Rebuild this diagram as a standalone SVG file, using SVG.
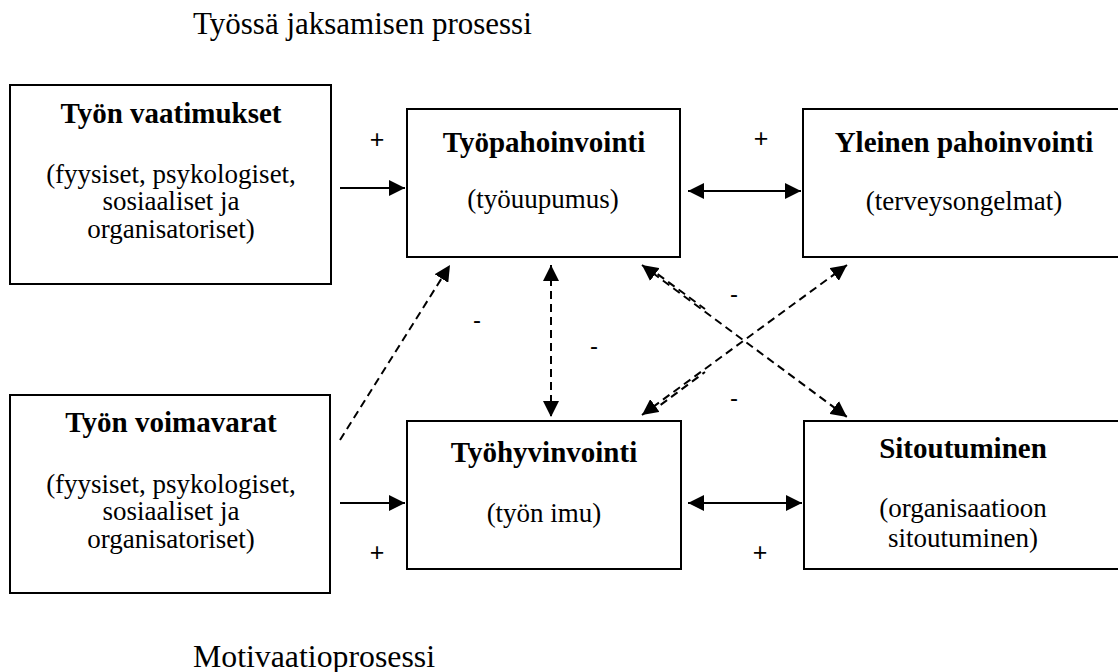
<svg xmlns="http://www.w3.org/2000/svg" width="1118" height="672" viewBox="0 0 1118 672">
<style>
.box{fill:#fff;stroke:#000;stroke-width:2}
.h{font-family:"Liberation Serif","Times New Roman",serif;font-weight:bold;font-size:29px;text-anchor:middle;fill:#000}
.t{font-family:"Liberation Serif","Times New Roman",serif;font-size:27px;text-anchor:middle;fill:#000}
.cap{font-family:"Liberation Serif","Times New Roman",serif;font-size:31px;fill:#000}
.sign{font-family:"Liberation Sans",Arial,sans-serif;font-size:25px;text-anchor:middle;fill:#000}
.minus{font-family:"Liberation Sans",Arial,sans-serif;font-size:24px;text-anchor:middle;fill:#000}
.solid{stroke:#000;stroke-width:2;fill:none}
.dash{stroke:#000;stroke-width:2;fill:none;stroke-dasharray:8 5}
</style>
<defs>
<marker id="ah" viewBox="0 0 16 16" refX="16" refY="8" markerWidth="16" markerHeight="16" markerUnits="userSpaceOnUse" orient="auto-start-reverse">
<path d="M0,0 L16,8 L0,16 z" fill="#000"/>
</marker>
</defs>
<rect width="1118" height="672" fill="#fff"/>
<text class="cap" x="193" y="34">Työssä jaksamisen prosessi</text>
<text class="cap" x="193" y="667" textLength="242" lengthAdjust="spacingAndGlyphs">Motivaatioprosessi</text>

<g id="tyon-vaatimukset">
<rect class="box" x="10" y="85" width="321" height="199"/>
<text class="h" x="171" y="123">Työn vaatimukset</text>
<text class="t" x="171" y="183">(fyysiset, psykologiset,</text>
<text class="t" x="171" y="210">sosiaaliset ja</text>
<text class="t" x="171" y="238">organisatoriset)</text>
</g>
<g id="tyopahoinvointi">
<rect class="box" x="407" y="109" width="273" height="148"/>
<text class="h" x="544" y="152">Työpahoinvointi</text>
<text class="t" x="543" y="208">(työuupumus)</text>
</g>
<g id="yleinen-pahoinvointi">
<rect class="box" x="803" y="109" width="322" height="148"/>
<text class="h" x="964" y="152">Yleinen pahoinvointi</text>
<text class="t" x="964" y="210">(terveysongelmat)</text>
</g>
<g id="tyon-voimavarat">
<rect class="box" x="10" y="395" width="320" height="198"/>
<text class="h" x="171" y="432">Työn voimavarat</text>
<text class="t" x="171" y="493">(fyysiset, psykologiset,</text>
<text class="t" x="171" y="520">sosiaaliset ja</text>
<text class="t" x="171" y="548">organisatoriset)</text>
</g>
<g id="tyohyvinvointi">
<rect class="box" x="407" y="421" width="274" height="148"/>
<text class="h" x="544" y="462">Työhyvinvointi</text>
<text class="t" x="544" y="522">(työn imu)</text>
</g>
<g id="sitoutuminen">
<rect class="box" x="804" y="421" width="321" height="148"/>
<text class="h" x="963" y="458">Sitoutuminen</text>
<text class="t" x="963" y="517">(organisaatioon</text>
<text class="t" x="963" y="547">sitoutuminen)</text>
</g>

<g id="connectors">
<path class="solid" d="M340,188 L405,188" marker-end="url(#ah)"/>
<path class="solid" d="M688,191 L801,191" marker-start="url(#ah)" marker-end="url(#ah)"/>
<path class="solid" d="M340,503 L405,503" marker-end="url(#ah)"/>
<path class="solid" d="M688,503 L802,503" marker-start="url(#ah)" marker-end="url(#ah)"/>
<path class="dash" d="M340,440 L450,265" marker-end="url(#ah)"/>
<path class="dash" d="M551,265 L551,417" marker-start="url(#ah)" marker-end="url(#ah)"/>
<path class="dash" d="M642,265 L847,417" marker-start="url(#ah)" marker-end="url(#ah)"/>
<path class="dash" d="M642,415 L847,265" marker-start="url(#ah)" marker-end="url(#ah)"/>
<path class="dash" d="M652,270 L705,309" style="stroke-dashoffset:6"/>
<path class="dash" d="M655,409 L705,372" style="stroke-dashoffset:6"/>
</g>
<g id="labels">
<text class="sign" x="377" y="148">+</text>
<text class="sign" x="761" y="147">+</text>
<text class="sign" x="377" y="561">+</text>
<text class="sign" x="760" y="561">+</text>
<text class="minus" x="477" y="328">-</text>
<text class="minus" x="594" y="354">-</text>
<text class="minus" x="734" y="302">-</text>
<text class="minus" x="734" y="406">-</text>
</g>
</svg>
